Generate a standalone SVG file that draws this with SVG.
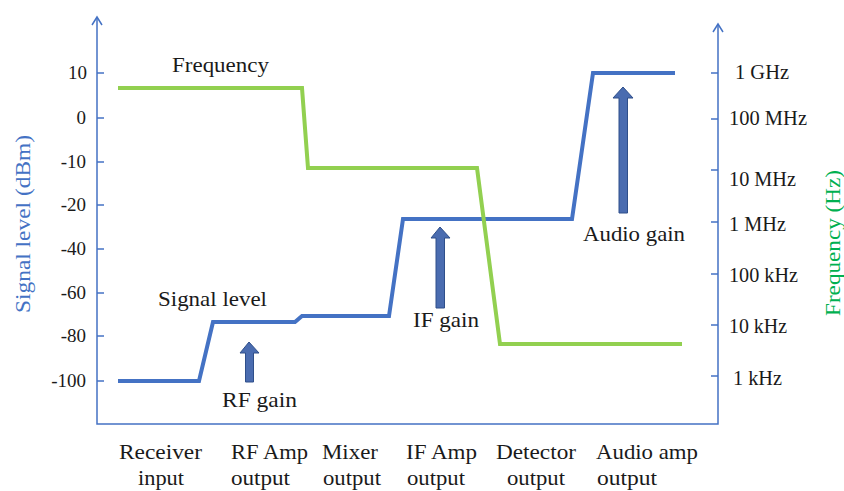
<svg xmlns="http://www.w3.org/2000/svg" width="844" height="491" viewBox="0 0 844 491">
  <style>
    .axis { stroke: #4472C4; stroke-width: 1.5; fill: none; }
    .tick { stroke: #4472C4; stroke-width: 1.5; }
    .signal { stroke: #4472C4; stroke-width: 4; fill: none; stroke-linejoin: miter; }
    .freq { stroke: #92D050; stroke-width: 4; fill: none; stroke-linejoin: miter; }
    .gain { fill: #4A6CB0; stroke: #2F4F8A; stroke-width: 1; }
    text { font-family: "Liberation Serif", "Times New Roman", serif; fill: #1a1a1a; }
    .lbl { font-size: 21px; }
    .tl { font-size: 19px; text-anchor: end; }
    .tr { font-size: 20px; }
    .ttl { font-size: 22px; }
  </style>

  <!-- axes -->
  <g id="axes">
    <polyline class="axis" points="97,18 97,424 718,424 718,25"/>
    <polyline class="axis" points="92,25 97,17 102,25"/>
    <polyline class="axis" points="713,32 718,24 723,32"/>
    <g class="tick">
      <!-- signal level ticks -->
      <line x1="97" y1="73" x2="104" y2="73"/>
      <line x1="97" y1="118" x2="104" y2="118"/>
      <line x1="97" y1="162" x2="104" y2="162"/>
      <line x1="97" y1="205" x2="104" y2="205"/>
      <line x1="97" y1="249" x2="104" y2="249"/>
      <line x1="97" y1="293" x2="104" y2="293"/>
      <line x1="97" y1="336" x2="104" y2="336"/>
      <line x1="97" y1="381" x2="104" y2="381"/>
      <!-- frequency ticks -->
      <line x1="711" y1="73" x2="718" y2="73"/>
      <line x1="711" y1="119" x2="718" y2="119"/>
      <line x1="711" y1="170" x2="718" y2="170"/>
      <line x1="711" y1="222" x2="718" y2="222"/>
      <line x1="711" y1="274" x2="718" y2="274"/>
      <line x1="711" y1="325" x2="718" y2="325"/>
      <line x1="711" y1="376" x2="718" y2="376"/>
    </g>
    <!-- signal level tick labels -->
    <text class="tl" x="87" y="79">10</text>
    <text class="tl" x="86" y="124">0</text>
    <text class="tl" x="86" y="168">-10</text>
    <text class="tl" x="86" y="211">-20</text>
    <text class="tl" x="86" y="255">-40</text>
    <text class="tl" x="86" y="299">-60</text>
    <text class="tl" x="86" y="342">-80</text>
    <text class="tl" x="86" y="387">-100</text>
    <!-- frequency tick labels -->
    <text class="tr" x="735" y="79" textLength="54" lengthAdjust="spacingAndGlyphs">1 GHz</text>
    <text class="tr" x="729" y="125" textLength="78" lengthAdjust="spacingAndGlyphs">100 MHz</text>
    <text class="tr" x="729" y="186" textLength="67" lengthAdjust="spacingAndGlyphs">10 MHz</text>
    <text class="tr" x="729" y="231" textLength="57" lengthAdjust="spacingAndGlyphs">1 MHz</text>
    <text class="tr" x="729" y="282" textLength="69" lengthAdjust="spacingAndGlyphs">100 kHz</text>
    <text class="tr" x="729" y="333" textLength="58" lengthAdjust="spacingAndGlyphs">10 kHz</text>
    <text class="tr" x="733" y="385" textLength="49" lengthAdjust="spacingAndGlyphs">1 kHz</text>
    <!-- axis titles -->
    <text class="ttl" transform="translate(30,313) rotate(-90)" textLength="178" lengthAdjust="spacingAndGlyphs" style="fill:#4472C4">Signal level (dBm)</text>
    <text class="ttl" transform="translate(840,316) rotate(-90)" textLength="146" lengthAdjust="spacingAndGlyphs" style="fill:#00B050">Frequency (Hz)</text>
  </g>

  <!-- traces -->
  <g id="connectors">
    <polyline id="signal-trace" class="signal" points="118,381 199,381 213,322 295,322 302,316 389,316 403,219 572,219 593,73 675,73"/>
    <polyline id="frequency-trace" class="freq" points="118,88 302,88 308,168 477,168 500,344 682,344"/>
  </g>

  <!-- gain arrows -->
  <g id="rf-gain">
    <polygon class="gain" points="249,342 259,353 253.5,353 253.5,382 245.5,382 245.5,353 240,353"/>
    <text class="lbl" x="222" y="407" textLength="75" lengthAdjust="spacingAndGlyphs">RF gain</text>
  </g>
  <g id="if-gain">
    <polygon class="gain" points="440,227 450,238 444.5,238 444.5,308 436,308 436,238 431,238"/>
    <text class="lbl" x="413" y="327" textLength="66" lengthAdjust="spacingAndGlyphs">IF gain</text>
  </g>
  <g id="audio-gain">
    <polygon class="gain" points="623,87 633,98 627.5,98 627.5,213 619,213 619,98 613,98"/>
    <text class="lbl" x="583" y="241" textLength="102" lengthAdjust="spacingAndGlyphs">Audio gain</text>
  </g>

  <!-- trace labels -->
  <g id="frequency-label">
    <text class="lbl" x="172" y="72" textLength="97" lengthAdjust="spacingAndGlyphs">Frequency</text>
  </g>
  <g id="signal-label">
    <text class="lbl" x="158" y="306" textLength="109" lengthAdjust="spacingAndGlyphs">Signal level</text>
  </g>

  <!-- stage labels -->
  <g id="stage-receiver">
    <text class="lbl" x="119" y="459" textLength="83" lengthAdjust="spacingAndGlyphs">Receiver</text>
    <text class="lbl" x="138" y="485" textLength="46" lengthAdjust="spacingAndGlyphs">input</text>
  </g>
  <g id="stage-rf">
    <text class="lbl" x="231" y="459" textLength="77" lengthAdjust="spacingAndGlyphs">RF Amp</text>
    <text class="lbl" x="231" y="485" textLength="59" lengthAdjust="spacingAndGlyphs">output</text>
  </g>
  <g id="stage-mixer">
    <text class="lbl" x="322" y="459" textLength="56" lengthAdjust="spacingAndGlyphs">Mixer</text>
    <text class="lbl" x="323" y="485" textLength="58" lengthAdjust="spacingAndGlyphs">output</text>
  </g>
  <g id="stage-if">
    <text class="lbl" x="406" y="459" textLength="71" lengthAdjust="spacingAndGlyphs">IF Amp</text>
    <text class="lbl" x="407" y="485" textLength="58" lengthAdjust="spacingAndGlyphs">output</text>
  </g>
  <g id="stage-detector">
    <text class="lbl" x="496" y="459" textLength="80" lengthAdjust="spacingAndGlyphs">Detector</text>
    <text class="lbl" x="507" y="485" textLength="58" lengthAdjust="spacingAndGlyphs">output</text>
  </g>
  <g id="stage-audio">
    <text class="lbl" x="596" y="459" textLength="102" lengthAdjust="spacingAndGlyphs">Audio amp</text>
    <text class="lbl" x="597" y="485" textLength="60" lengthAdjust="spacingAndGlyphs">output</text>
  </g>
</svg>
